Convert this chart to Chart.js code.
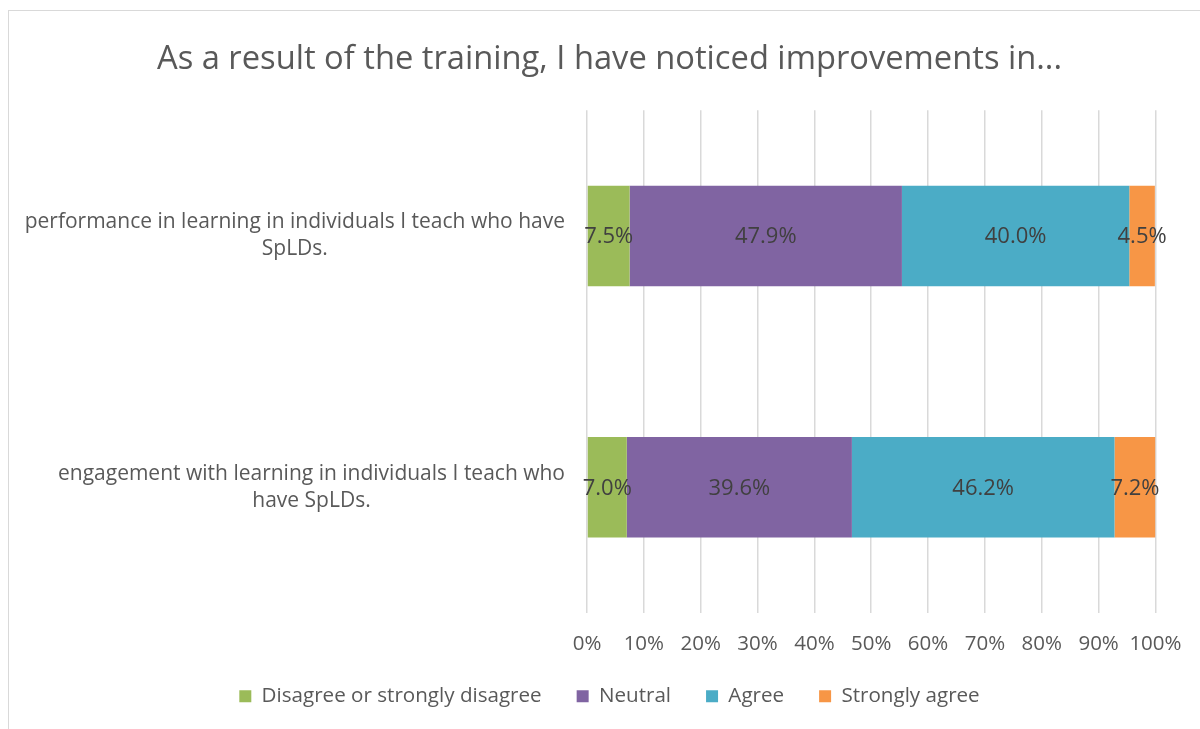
<!DOCTYPE html>
<html>
<head>
<meta charset="utf-8">
<script src="https://cdn.jsdelivr.net/npm/chart.js@4.4.0/dist/chart.umd.min.js"></script>
<style>
  html, body { margin: 0; padding: 0; background: #fff; }
  #wrap { position: relative; width: 1200px; height: 729px; overflow: hidden; }
  #frame { position: absolute; left: 8px; top: 10px; width: 1300px; height: 800px;
           border-left: 1px solid #d9d9d9; border-top: 1px solid #d9d9d9; }
  canvas { position: absolute; left: 0; top: 0; }
</style>
</head>
<body>
<div id="wrap">
  <div id="frame"></div>
  <canvas id="chart" width="1200" height="729"></canvas>
</div>
<script>
(function(){
  // categories (top to bottom), each wrapped into lines as in the original
  const categories = [
    ['performance in learning in individuals I teach who have', 'SpLDs.'],
    ['engagement with learning in individuals I teach who', 'have SpLDs.']
  ];
  const seriesNames = ['Disagree or strongly disagree', 'Neutral', 'Agree', 'Strongly agree'];
  const disagree = [7.5, 7.0];
  const neutral = [47.9, 39.6];
  const agree = [40.0, 46.2];
  const stronglyAgree = [4.5, 7.2];
  const xTicks = [0, 10, 20, 30, 40, 50, 60, 70, 80, 90, 100];

  const colors = ['#9bbb59', '#8064a2', '#4bacc6', '#f79646'];
  const FONT = "'Open Sans', sans-serif";
  const TEXT = '#595959';
  const PAD_LEFT = 63;

  // Helper: draw the wrapped category labels beside the y scale
  const catLabels = {
    id: 'catLabels',
    afterDraw(chart) {
      const ctx = chart.ctx;
      const y = chart.scales.y;
      const right = 565, lh = 27;
      ctx.save();
      ctx.font = '21px ' + FONT;
      ctx.fillStyle = TEXT;
      ctx.textAlign = 'center';
      ctx.textBaseline = 'middle';
      categories.forEach((lines, i) => {
        const w = Math.max(...lines.map(l => ctx.measureText(l).width));
        const cx = right - w / 2;
        const cy = y.getPixelForValue(i);
        lines.forEach((l, k) => {
          ctx.fillText(l, cx, cy + (k - (lines.length - 1) / 2) * lh);
        });
      });
      ctx.restore();
    }
  };

  // Helper: value labels in the middle of every segment
  const valueLabels = {
    id: 'valueLabels',
    afterDatasetsDraw(chart) {
      const ctx = chart.ctx;
      ctx.save();
      ctx.font = '22px ' + FONT;
      ctx.fillStyle = '#404040';
      ctx.textAlign = 'center';
      ctx.textBaseline = 'middle';
      chart.data.datasets.forEach((ds, di) => {
        chart.getDatasetMeta(di).data.forEach((bar, i) => {
          const p = bar.getCenterPoint();
          ctx.fillText(ds.data[i].toFixed(1) + '%', p.x, p.y + 1);
        });
      });
      ctx.restore();
    }
  };

  const ctx = document.getElementById('chart').getContext('2d');
  new Chart(ctx, {
    type: 'bar',
    data: {
      labels: categories.map(c => c.join(' ')),
      datasets: [disagree, neutral, agree, stronglyAgree].map((d, i) => ({
        label: seriesNames[i],
        data: d,
        backgroundColor: colors[i],
        borderWidth: 0,
        barPercentage: 0.4,
        categoryPercentage: 1
      }))
    },
    options: {
      indexAxis: 'y',
      responsive: false,
      animation: false,
      layout: { padding: { left: PAD_LEFT, right: 44, top: 0, bottom: 12.4 } },
      plugins: {
        title: {
          display: true,
          text: 'As a result of the training, I have noticed improvements in...',
          color: TEXT,
          font: { family: FONT, size: 32.7, weight: 'normal' },
          padding: { top: 40, bottom: 31 }
        },
        legend: {
          position: 'bottom',
          labels: {
            color: TEXT,
            font: { family: FONT, size: 20.6 },
            boxWidth: 12,
            boxHeight: 12,
            padding: 35
          }
        },
        tooltip: { enabled: false }
      },
      scales: {
        x: {
          stacked: true,
          min: 0,
          max: 100,
          afterBuildTicks(scale) { scale.ticks = xTicks.map(v => ({ value: v })); },
          afterFit(scale) { scale.height = 38; },
          border: { display: false },
          grid: { color: '#d9d9d9', lineWidth: 1.5, drawTicks: false },
          ticks: {
            color: TEXT,
            font: { family: FONT, size: 20.5 },
            padding: 18.5,
            maxRotation: 0,
            minRotation: 0,
            autoSkip: false,
            callback: v => v + '%'
          }
        },
        y: {
          stacked: true,
          border: { display: false },
          grid: { display: false },
          ticks: { display: false },
          afterFit(scale) { scale.width = 587 - PAD_LEFT; }
        }
      }
    },
    plugins: [catLabels, valueLabels]
  });
})();
</script>
</body>
</html>
